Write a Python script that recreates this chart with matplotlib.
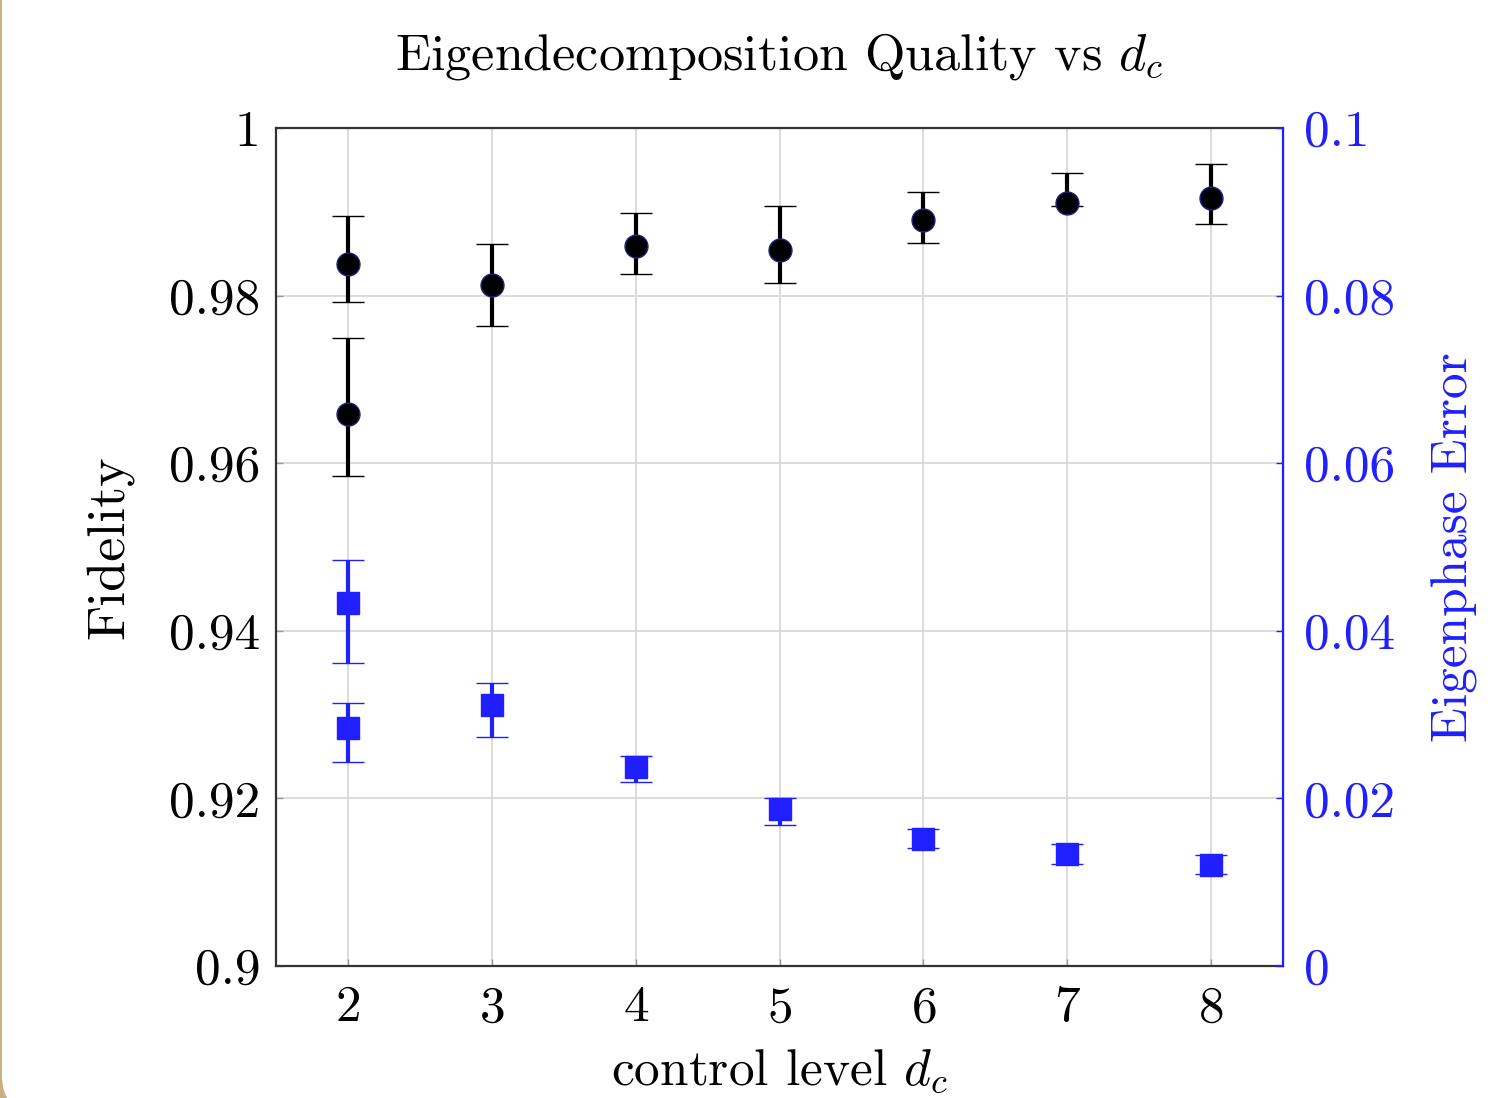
import matplotlib
matplotlib.use("Agg")
import matplotlib.pyplot as plt
import matplotlib.ticker as mticker
from matplotlib.patches import FancyBboxPatch
from matplotlib.transforms import IdentityTransform

# control levels (two runs at d_c = 2)
dc_fid = [2, 2, 3, 4, 5, 6, 7, 8]
fidelity = [0.9838, 0.9659, 0.9813, 0.9859, 0.9854, 0.9890, 0.9910, 0.9917]
fid_lo = [0.0046, 0.0074, 0.0049, 0.0033, 0.0039, 0.0027, 0.0003, 0.0031]
fid_hi = [0.0057, 0.0091, 0.0049, 0.0039, 0.0053, 0.0034, 0.0036, 0.0040]

dc_err = [2, 2, 3, 4, 5, 6, 7, 8]
eig_err = [0.0433, 0.0284, 0.0312, 0.0238, 0.0187, 0.0152, 0.0134, 0.0121]
err_lo = [0.0072, 0.0041, 0.0039, 0.0019, 0.0019, 0.0011, 0.0012, 0.0011]
err_hi = [0.0052, 0.0030, 0.0026, 0.0013, 0.0013, 0.0011, 0.0011, 0.0011]

fid_ticks = [0.9, 0.92, 0.94, 0.96, 0.98, 1.0]
err_ticks = [0, 0.02, 0.04, 0.06, 0.08, 0.1]

plt.rcParams.update({
    "font.family": "serif",
    "font.serif": ["cmr10"],
    "mathtext.fontset": "cm",
    "axes.formatter.use_mathtext": True,
    "axes.unicode_minus": False,
    "font.size": 37,
})

blue = "#1f1fff"
dpi = 100
fig = plt.figure(figsize=(1493 / dpi, 1098 / dpi), dpi=dpi)
fig.patch.set_facecolor("#c9b07e")
# white card with rounded lower-left corner
card = FancyBboxPatch((2, -14), 1700, 1300, boxstyle="round,pad=0,rounding_size=36",
                      transform=IdentityTransform(), facecolor="white", edgecolor="none",
                      zorder=-5)
fig.patches.append(card)

ax1 = fig.add_axes([276 / 1493, 132 / 1098, 1007 / 1493, 838 / 1098])
ax2 = ax1.twinx()

ax1.errorbar(dc_fid, fidelity, yerr=[fid_lo, fid_hi], fmt="o", color="black",
             markersize=16.5, markeredgecolor="#20208a", markeredgewidth=1,
             elinewidth=3.0, capsize=11.5, capthick=3.0, zorder=3)
ax2.errorbar(dc_err, eig_err, yerr=[err_lo, err_hi], fmt="s", color=blue,
             markersize=16, markeredgecolor=blue, markeredgewidth=1,
             elinewidth=3.0, capsize=11.5, capthick=3.0, zorder=3)

ax1.set_xlim(1.5, 8.5)
ax1.set_ylim(0.9, 1.0)
ax2.set_ylim(0, 0.1)
ax1.set_xticks(range(2, 9))
ax1.set_yticks(fid_ticks)
ax2.set_yticks(err_ticks)

fmt = mticker.FuncFormatter(lambda v, p: ("%.2f" % v).rstrip("0").rstrip("."))
ax1.yaxis.set_major_formatter(fmt)
ax2.yaxis.set_major_formatter(fmt)

ax1.grid(True, color="#d9d9d9", linewidth=1.3, zorder=0)
ax1.set_axisbelow(True)

ax1.tick_params(axis="both", direction="in", length=5, width=1, color="#999999")
ax1.tick_params(axis="y", pad=11)
ax1.tick_params(axis="x", pad=14)
ax2.tick_params(axis="y", direction="in", length=5, width=1, colors=blue, pad=15)

for s in ["left", "top", "bottom"]:
    ax1.spines[s].set_color("#333333")
    ax1.spines[s].set_linewidth(1.6)
ax2.spines["right"].set_color(blue)
ax2.spines["right"].set_linewidth(1.6)
for s in ["left", "top", "bottom"]:
    ax2.spines[s].set_visible(False)

ax1.set_title(r"Eigendecomposition Quality vs $d_c$", fontsize=37.5, pad=42)
ax1.set_xlabel(r"control level $d_c$", labelpad=12)
ax1.set_ylabel("Fidelity", fontsize=39, labelpad=26)
ax2.set_ylabel("Eigenphase Error", color=blue, labelpad=26)

fig.savefig("out.png", dpi=dpi, facecolor=fig.get_facecolor())
